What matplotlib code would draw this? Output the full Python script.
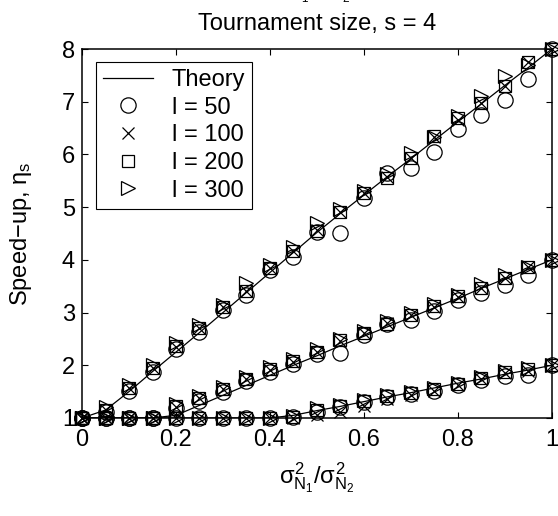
import numpy as np
import matplotlib
matplotlib.use("Agg")
import matplotlib.pyplot as plt

plt.rcParams['font.family'] = ['Liberation Sans', 'DejaVu Sans']
plt.rcParams['mathtext.fontset'] = 'custom'
plt.rcParams['mathtext.rm'] = 'Liberation Sans'
plt.rcParams['mathtext.it'] = 'Liberation Sans'

# noise variance ratio
ratio = [0, .05, .1, .15, .2, .25, .3, .35, .4, .45, .5,
         .55, .6, .65, .7, .75, .8, .85, .9, .95, 1]

# theory curves (end at 8, 4 and 2)
theory_hi = [1, 1.15, 1.5, 1.88, 2.25, 2.62, 3.0, 3.38, 3.76, 4.14, 4.52,
             4.88, 5.23, 5.58, 5.92, 6.27, 6.62, 6.96, 7.31, 7.65, 8.0]
theory_mid = [1, 1, 1, 1, 1.05, 1.24, 1.43, 1.62, 1.81, 2.0, 2.18,
              2.37, 2.55, 2.73, 2.91, 3.09, 3.27, 3.46, 3.64, 3.82, 4.0]
theory_lo = [1, 1, 1, 1, 1, 1, 1, 1, 1, 1.05, 1.14,
             1.22, 1.31, 1.40, 1.48, 1.57, 1.66, 1.74, 1.83, 1.91, 2.0]

# experiments, upper curve
l50_hi = [1, 1.12, 1.52, 1.88, 2.30, 2.64, 3.05, 3.34, 3.80, 4.06, 4.52,
          4.50, 5.17, 5.65, 5.74, 6.05, 6.48, 6.75, 7.03, 7.43, 8.0]
l100_hi = [1, 1.15, 1.56, 1.94, 2.35, 2.70, 3.10, 3.40, 3.84, 4.16, 4.57,
           4.91, 5.26, 5.58, 5.93, 6.33, 6.66, 6.97, 7.29, 7.76, 8.0]
l200_hi = [1, 1.16, 1.56, 1.95, 2.36, 2.71, 3.10, 3.41, 3.84, 4.16, 4.55,
           4.90, 5.26, 5.56, 5.93, 6.35, 6.69, 6.97, 7.29, 7.76, 8.0]
l300_hi = [1, 1.20, 1.62, 2.00, 2.43, 2.76, 3.15, 3.56, 3.90, 4.25, 4.69,
           4.97, 5.30, 5.62, 6.03, 6.33, 6.72, 7.10, 7.48, 7.70, 8.0]

# middle curve
l50_mid = [1, 1, 1, 1, 1.18, 1.33, 1.50, 1.70, 1.88, 2.03, 2.22,
           2.23, 2.58, 2.78, 2.86, 3.02, 3.24, 3.37, 3.52, 3.71, 4.0]
l100_mid = [1, 1, 1, 1, 1.21, 1.37, 1.54, 1.73, 1.91, 2.07, 2.26,
            2.46, 2.61, 2.80, 2.95, 3.11, 3.30, 3.46, 3.65, 3.87, 4.0]
l200_mid = [1, 1, 1, 1, 1.22, 1.38, 1.55, 1.73, 1.92, 2.08, 2.26,
            2.47, 2.61, 2.78, 2.96, 3.12, 3.31, 3.47, 3.66, 3.87, 4.0]
l300_mid = [1, 1, 1, 1, 1.26, 1.42, 1.59, 1.78, 1.96, 2.11, 2.31,
            2.50, 2.65, 2.84, 3.00, 3.17, 3.34, 3.55, 3.72, 3.87, 4.0]

# lower curve
l50_lo = [1, 1, 1, 1, 1, 1, 1, 1, 1, 1.01, 1.12,
          1.20, 1.30, 1.40, 1.46, 1.52, 1.62, 1.72, 1.79, 1.82, 2.0]
l100_lo = [1, 1, 1, 1, 1, 1, 1, 1, 1, 1.0, 1.06,
           1.12, 1.22, 1.36, 1.44, 1.52, 1.62, 1.73, 1.85, 1.90, 2.0]
l200_lo = [1, 1, 1, 1, 1, 1, 1, 1, 1, 1.02, 1.15,
           1.22, 1.32, 1.41, 1.48, 1.54, 1.64, 1.76, 1.88, 1.92, 2.0]
l300_lo = [1, 1, 1, 1, 1, 1, 1, 1, 1, 1.04, 1.18,
           1.24, 1.34, 1.43, 1.50, 1.57, 1.66, 1.78, 1.90, 1.94, 2.0]

fig = plt.figure(figsize=(5.58, 5.16), dpi=100)
ax = fig.add_axes([0.147, 0.19, 0.842, 0.715])

# theory lines
ax.plot(ratio, theory_hi, color='black', lw=0.9, label='Theory')
ax.plot(ratio, theory_mid, color='black', lw=0.9)
ax.plot(ratio, theory_lo, color='black', lw=0.9)

# marker style per population size
styles = [('o', 11, 'l = 50', [l50_hi, l50_mid, l50_lo]),
          ('x', 8, 'l = 100', [l100_hi, l100_mid, l100_lo]),
          ('s', 9, 'l = 200', [l200_hi, l200_mid, l200_lo]),
          ('>', 10.5, 'l = 300', [l300_hi, l300_mid, l300_lo])]

for m, ms, lab, series in styles:
    for i, vals in enumerate(series):
        ax.plot(ratio, vals, linestyle='none', marker=m, markersize=ms,
                markerfacecolor='none', markeredgecolor='black',
                markeredgewidth=0.9, clip_on=False,
                label=lab if i == 0 else None)

fs = 17
ax.set_xlim(0, 1)
ax.set_ylim(1, 8)
ax.set_xticks([0, 0.2, 0.4, 0.6, 0.8, 1])
ax.set_xticklabels(['0', '0.2', '0.4', '0.6', '0.8', '1'])
ax.set_yticks(range(1, 9))
ax.tick_params(direction='in', top=True, right=True, length=4,
               width=0.8, labelsize=fs)
ax.tick_params(axis='x', pad=8)
ax.tick_params(axis='y', pad=5)
for sp in ax.spines.values():
    sp.set_linewidth(1.1)

ax.set_xlabel(r'$\sigma^2_{N_1}/\sigma^2_{N_2}$', fontsize=fs, labelpad=7)
ax.set_ylabel('Speed\u2212up, $\\eta_s$', fontsize=fs, labelpad=20)
ax.set_title('Tournament size, s = 4', fontsize=fs, pad=14)

# first title line, cut off at the top of the figure (as in the source)
fig.text(0.56, 0.99, r'$\sigma^2_{N_1}/\sigma^2_{N_2}$', fontsize=fs,
         ha='center', va='bottom')

leg = ax.legend(loc='upper left', bbox_to_anchor=(0.03, 0.965),
                borderaxespad=0, fontsize=fs, fancybox=False,
                framealpha=1, edgecolor='black', labelspacing=0.24,
                handlelength=2.1, handletextpad=0.8, borderpad=0.3)
leg.get_frame().set_linewidth(0.8)

fig.savefig('out.png', dpi=100)
